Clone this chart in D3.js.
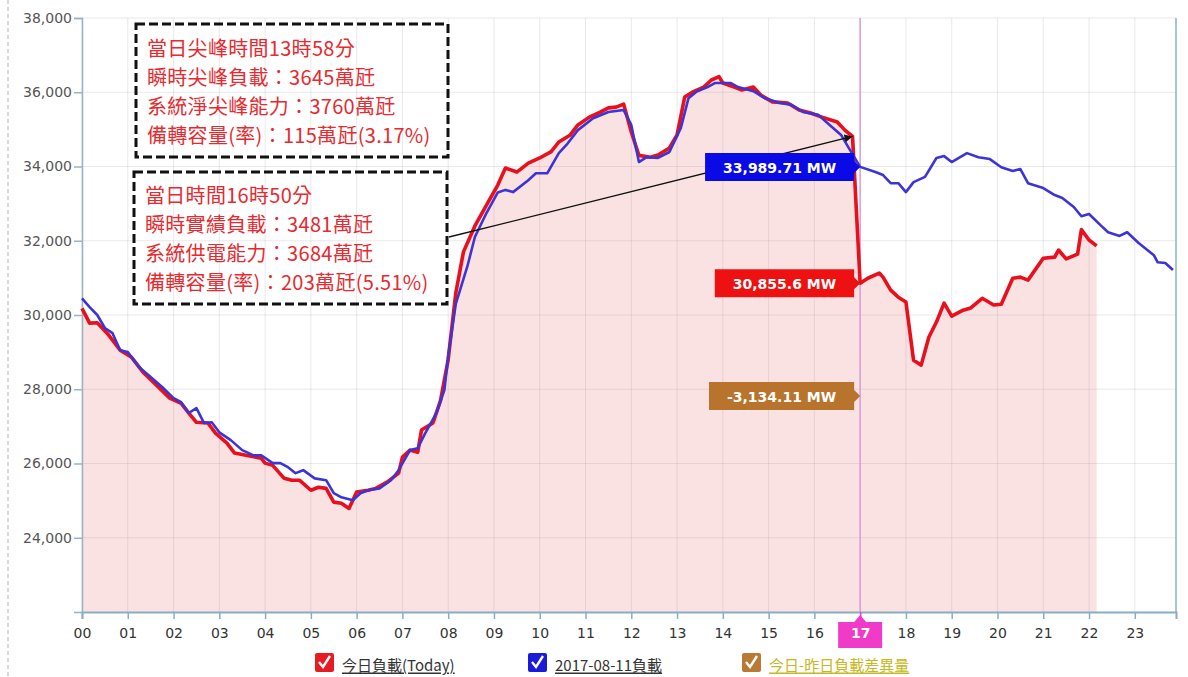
<!DOCTYPE html>
<html><head><meta charset="utf-8">
<script src="https://cdn.jsdelivr.net/npm/d3@7"></script>
<style>
html,body{margin:0;padding:0;background:#fff;}
svg{display:block;}
</style></head>
<body><svg id="c" width="1188" height="677"></svg>
<script>
// ---------- data ----------
const hourLabels = ["00","01","02","03","04","05","06","07","08","09","10","11","12","13","14","15","16","17","18","19","20","21","22","23"];
const yTicks = [24000,26000,28000,30000,32000,34000,36000,38000];

const todayTimes = ["00:00","00:10","00:20","00:35","00:50","01:05","01:20","01:40","01:55","02:10","02:20","02:30","02:45","02:55","03:10","03:20","03:35","03:55","04:00","04:10","04:25","04:35","04:45","05:00","05:10","05:20","05:30","05:40","05:50","06:00","06:15","06:25","06:40","06:55","07:00","07:10","07:20","07:25","07:40","07:50","08:00","08:10","08:20","08:35","08:50","09:05","09:15","09:30","09:45","10:00","10:15","10:25","10:40","10:50","11:05","11:20","11:30","11:40","11:50","12:00","12:10","12:25","12:35","12:50","13:00","13:10","13:20","13:35","13:45","13:55","14:00","14:15","14:25","14:40","14:50","15:05","15:25","15:40","15:55","16:10","16:30","16:40","16:50","17:00","17:10","17:25","17:30","17:40","17:50","18:00","18:10","18:20","18:30","18:40","18:50","19:00","19:15","19:25","19:40","19:55","20:05","20:20","20:30","20:40","21:00","21:15","21:20","21:30","21:45","21:50","22:00","22:10"];
const todayLoad = [30180,29780,29790,29460,29050,28860,28460,28060,27760,27620,27360,27110,27090,26820,26550,26280,26220,26140,26010,25950,25600,25550,25550,25280,25360,25330,24960,24930,24790,25230,25280,25330,25500,25740,26170,26360,26300,26900,27090,27700,28800,30600,31700,32400,32950,33500,33960,33850,34090,34230,34400,34660,34850,35120,35330,35470,35580,35600,35680,34930,34300,34250,34310,34500,34850,35870,36000,36140,36330,36420,36250,36140,36060,36140,35920,35740,35710,35520,35440,35330,35200,34980,34810,30856,30990,31130,31020,30670,30480,30350,28780,28650,29400,29810,30320,29970,30130,30190,30450,30270,30290,30990,31020,30940,31530,31560,31750,31510,31640,32300,32020,31860];

const yesterdayTimes = ["00:00","00:10","00:20","00:30","00:40","00:50","01:00","01:15","01:30","01:45","02:00","02:10","02:20","02:30","02:40","02:50","03:00","03:15","03:30","03:45","03:55","04:10","04:20","04:30","04:40","04:50","05:05","05:20","05:30","05:40","05:55","06:05","06:15","06:30","06:45","06:55","07:10","07:20","07:30","07:45","07:55","08:00","08:10","08:25","08:35","08:50","09:05","09:15","09:25","09:45","09:55","10:10","10:25","10:35","10:50","11:10","11:30","11:50","12:00","12:10","12:20","12:35","12:50","13:05","13:15","13:25","13:40","13:50","14:10","14:20","14:40","14:55","15:15","15:30","15:45","16:05","16:20","16:35","16:45","17:00","17:20","17:30","17:40","17:50","18:00","18:10","18:25","18:40","18:50","19:00","19:20","19:35","19:50","20:05","20:20","20:30","20:40","21:00","21:15","21:25","21:40","21:50","22:00","22:15","22:25","22:40","22:50","23:05","23:25","23:30","23:40","23:50"];
const yesterdayLoad = [30450,30210,30000,29650,29510,29050,29000,28590,28330,28060,27760,27650,27360,27490,27090,27110,26840,26630,26360,26220,26220,26010,26010,25900,25740,25820,25600,25550,25200,25090,25010,25200,25280,25330,25550,25820,26360,26410,26820,27380,27980,28900,30300,31300,32100,32740,33300,33370,33310,33630,33820,33820,34360,34580,34980,35300,35470,35520,35120,34120,34250,34230,34390,35040,35840,36010,36140,36250,36250,36140,36030,35840,35710,35660,35470,35390,35120,34850,34500,33990,33850,33770,33550,33550,33310,33580,33720,34230,34280,34120,34360,34250,34200,33980,33880,33930,33550,33420,33230,33150,32910,32660,32720,32420,32230,32130,32230,31940,31610,31420,31400,31210];

const boxPeakLines = ["當日尖峰時間13時58分","瞬時尖峰負載：3645萬瓩","系統淨尖峰能力：3760萬瓩","備轉容量(率)：115萬瓩(3.17%)"];
const boxNowLines = ["當日時間16時50分","瞬時實績負載：3481萬瓩","系統供電能力：3684萬瓩","備轉容量(率)：203萬瓩(5.51%)"];
const currentHour = 17;
const arrowTarget = {time:"16:50", value:34810};
const labelYesterday = {text:"33,989.71 MW", value:33989.71, color:"#0a0ae6"};
const labelToday = {text:"30,855.6 MW", value:30855.6, color:"#ee1111"};
const labelDiff = {text:"-3,134.11 MW", value:27820, color:"#b8742c"};
const legendItems = [
  {text:"今日負載(Today)", color:"#e51c23", textColor:"#333", x:315},
  {text:"2017-08-11負載", color:"#1a1ad8", textColor:"#333", x:528},
  {text:"今日-昨日負載差異量", color:"#b87a34", textColor:"#c6b820", x:742}
];

// ---------- helpers ----------
const toH = s => { const [h,m] = s.split(":").map(Number); return h + m/60; };
const today = todayTimes.map((t,i)=>({h:toH(t), v:todayLoad[i]}));
const yest = yesterdayTimes.map((t,i)=>({h:toH(t), v:yesterdayLoad[i]}));

const svg = d3.select("#c");
const L = 82, R = 1176, T = 18, B = 612;
const x = d3.scaleLinear().domain([0, 23.9]).range([L, R]);
const y = d3.scaleLinear().domain([22000, 38000]).range([B, T]);

// left page border
svg.append("line").attr("x1",8).attr("x2",8).attr("y1",0).attr("y2",677)
  .attr("stroke","#d5dcd5").attr("stroke-width",2).attr("stroke-dasharray","4,3");

// area fill under today
svg.append("path").datum(today)
  .attr("d", d3.area().x(d=>x(d.h)).y0(y(22000)).y1(d=>y(d.v)))
  .attr("fill","#fbe2e2");

// grid
const g = svg.append("g");
g.selectAll(".vg").data(d3.range(0,24)).join("line")
  .attr("x1",d=>x(d)).attr("x2",d=>x(d)).attr("y1",T).attr("y2",B)
  .attr("stroke","rgba(120,120,140,0.16)").attr("stroke-width",1);
g.selectAll(".hg").data(yTicks).join("line")
  .attr("x1",L).attr("x2",R).attr("y1",d=>y(d)).attr("y2",d=>y(d))
  .attr("stroke","rgba(120,120,140,0.16)").attr("stroke-width",1);

// current hour line
svg.append("line").attr("x1",x(currentHour)).attr("x2",x(currentHour)).attr("y1",T).attr("y2",B)
  .attr("stroke","#d9a3d6").attr("stroke-width",1.6);

// axes
const yAxis = d3.axisLeft(y).tickValues(yTicks).tickSize(8).tickFormat(d3.format(","));
const ya = svg.append("g").attr("transform",`translate(${L},0)`).call(yAxis);
ya.select(".domain").attr("stroke","#98b4c4").attr("stroke-width",1.5);
ya.selectAll(".tick line").attr("stroke","#98b4c4").attr("stroke-width",1.5);
ya.selectAll(".tick text").attr("font-family","DejaVu Sans, Verdana, sans-serif").attr("font-size",14).attr("fill","#555").attr("x",-10);

const xAxis = d3.axisBottom(x).tickValues(d3.range(0,24)).tickSize(7).tickFormat(d=>hourLabels[d]);
const xa = svg.append("g").attr("transform",`translate(0,${B})`).call(xAxis);
xa.select(".domain").attr("stroke","#88aec4").attr("stroke-width",2);
xa.selectAll(".tick line").attr("stroke","#88aec4").attr("stroke-width",1.5);
xa.selectAll(".tick text").attr("font-family","DejaVu Sans, Verdana, sans-serif").attr("font-size",14).attr("fill","#333").attr("y",16);
xa.selectAll(".tick").filter(d=>d===currentHour).select("text").attr("fill","#fff").attr("font-weight","bold");

// right border
svg.append("line").attr("x1",R).attr("x2",R).attr("y1",T).attr("y2",B).attr("stroke","#88b4c0").attr("stroke-width",1.5);

// highlighted current hour label
const cx = x(currentHour);
svg.append("path")
  .attr("d",`M${cx-22},${B+10} L${cx-6},${B+10} L${cx},${B+3} L${cx+6},${B+10} L${cx+22},${B+10} L${cx+22},${B+36} L${cx-22},${B+36} Z`)
  .attr("fill","#f03ac8");
xa.raise();
xa.selectAll(".tick line").filter(d=>d===currentHour).attr("stroke","#f03ac8");

// lines
const line = d3.line().x(d=>x(d.h)).y(d=>y(d.v));
svg.append("path").datum(today).attr("d",line).attr("fill","none")
  .attr("stroke","#e8101c").attr("stroke-width",3.6).attr("stroke-linejoin","round");
svg.append("path").datum(yest).attr("d",line).attr("fill","none")
  .attr("stroke","#3c34d6").attr("stroke-width",2.6).attr("stroke-linejoin","round");

// annotation boxes
function box(lines, x0, y0, x1, y1, ty0) {
  svg.append("rect").attr("x",x0).attr("y",y0).attr("width",x1-x0).attr("height",y1-y0)
    .attr("fill","none").attr("stroke","#111").attr("stroke-width",3).attr("stroke-dasharray","9,4");
  lines.forEach((s,i)=>{
    svg.append("text").attr("x",x0+11).attr("y",ty0+i*29.2).attr("dominant-baseline","central")
      .attr("font-family","'Noto Sans CJK TC','Noto Sans CJK SC',sans-serif").attr("font-size",20)
      .attr("letter-spacing","0.3px")
      .attr("fill","#e62a30").text(s);
  });
}
box(boxPeakLines, 136, 24, 448, 157, 47);
box(boxNowLines, 134, 172, 447, 304, 194);

// arrow
const defs = svg.append("defs");
defs.append("marker").attr("id","ah").attr("viewBox","0 0 10 10").attr("refX",10).attr("refY",5)
  .attr("markerWidth",10).attr("markerHeight",8).attr("markerUnits","userSpaceOnUse").attr("orient","auto")
  .append("path").attr("d","M0,0 L10,5 L0,10 Z").attr("fill","#111");
svg.append("line").attr("x1",449).attr("y1",237)
  .attr("x2",x(toH(arrowTarget.time))).attr("y2",y(arrowTarget.value))
  .attr("stroke","#111").attr("stroke-width",1.3).attr("marker-end","url(#ah)");

// value labels
function valueLabel(lbl) {
  const tip = x(currentHour);
  const yc = y(lbl.value);
  const grp = svg.append("g");
  const t = grp.append("text").attr("font-family","DejaVu Sans, Verdana, sans-serif").attr("font-weight","bold")
    .attr("font-size",14).attr("fill","#fff").attr("text-anchor","middle").attr("dominant-baseline","central").text(lbl.text);
  const w = t.node().getComputedTextLength() + 36;
  const x1 = tip - 6, x0 = x1 - w, h = 28;
  grp.insert("path","text")
    .attr("d",`M${x0},${yc-h/2} L${x1},${yc-h/2} L${x1},${yc-6} L${tip},${yc} L${x1},${yc+6} L${x1},${yc+h/2} L${x0},${yc+h/2} Z`)
    .attr("fill",lbl.color);
  t.attr("x",(x0+x1)/2).attr("y",yc+1);
}
valueLabel(labelYesterday);
valueLabel(labelToday);
valueLabel(labelDiff);

// legend
legendItems.forEach(it=>{
  const lg = svg.append("g").attr("transform",`translate(${it.x},653)`);
  lg.append("rect").attr("width",19).attr("height",19).attr("rx",2).attr("fill",it.color);
  lg.append("path").attr("d","M4,9 L8,14 L15,3").attr("fill","none").attr("stroke","#fff").attr("stroke-width",2.4);
  lg.append("text").attr("x",27).attr("y",11).attr("dominant-baseline","central")
    .attr("font-family","'Noto Sans CJK TC',sans-serif").attr("font-size",15)
    .attr("text-decoration","underline").attr("fill",it.textColor).text(it.text);
});
</script></body></html>
